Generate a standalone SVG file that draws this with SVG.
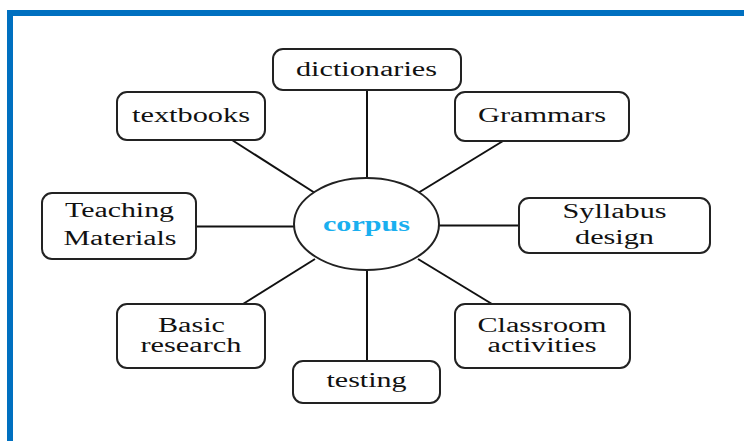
<svg xmlns="http://www.w3.org/2000/svg" width="744" height="441" viewBox="0 0 744 441">
<style>
.box{fill:#fff;stroke:#222;stroke-width:2}
.t{font-family:"Liberation Serif","Times New Roman",serif;font-size:20px;fill:#111;text-anchor:middle}
.c{font-family:"Liberation Serif","Times New Roman",serif;font-size:21px;font-weight:bold;fill:#1AAFEF;text-anchor:middle}
.ln{stroke:#111;stroke-width:2;fill:none}
</style>
<rect width="744" height="441" fill="#fff"/>
<path d="M10 445 V13 H750" fill="none" stroke="#0070C0" stroke-width="6"/>
<g id="connectors">
<line class="ln" x1="367" y1="90" x2="367" y2="178"/>
<line class="ln" x1="232" y1="140" x2="315" y2="193"/>
<line class="ln" x1="503" y1="141" x2="418" y2="193"/>
<line class="ln" x1="196" y1="226.5" x2="294" y2="226.5"/>
<line class="ln" x1="439" y1="225.5" x2="519" y2="225.5"/>
<line class="ln" x1="243" y1="304" x2="315" y2="259"/>
<line class="ln" x1="367" y1="270" x2="367" y2="361"/>
<line class="ln" x1="492" y1="304" x2="418" y2="259"/>
</g>
<g id="corpus">
<ellipse cx="366.5" cy="224" rx="72.5" ry="46" class="box"/>
<text class="c" x="366.5" y="231" textLength="87" lengthAdjust="spacingAndGlyphs">corpus</text>
</g>
<g id="dictionaries">
<rect class="box" x="273" y="49" width="188" height="41" rx="10"/>
<text class="t" x="366.5" y="76" textLength="141" lengthAdjust="spacingAndGlyphs">dictionaries</text>
</g>
<g id="textbooks">
<rect class="box" x="117" y="92" width="148" height="48" rx="10"/>
<text class="t" x="191" y="122" textLength="118" lengthAdjust="spacingAndGlyphs">textbooks</text>
</g>
<g id="grammars">
<rect class="box" x="455" y="92" width="174" height="49" rx="10"/>
<text class="t" x="542" y="122" textLength="128" lengthAdjust="spacingAndGlyphs">Grammars</text>
</g>
<g id="teaching-materials">
<rect class="box" x="42" y="193" width="154" height="66" rx="10"/>
<text class="t" x="119.5" y="217" textLength="109" lengthAdjust="spacingAndGlyphs">Teaching</text>
<text class="t" x="120" y="245" textLength="113" lengthAdjust="spacingAndGlyphs">Materials</text>
</g>
<g id="syllabus-design">
<rect class="box" x="519" y="198" width="191" height="55" rx="10"/>
<text class="t" x="614.5" y="218" textLength="104" lengthAdjust="spacingAndGlyphs">Syllabus</text>
<text class="t" x="614.5" y="244" textLength="79" lengthAdjust="spacingAndGlyphs">design</text>
</g>
<g id="basic-research">
<rect class="box" x="117" y="304" width="148" height="64" rx="10"/>
<text class="t" x="191.5" y="332" textLength="67" lengthAdjust="spacingAndGlyphs">Basic</text>
<text class="t" x="191" y="352" textLength="101" lengthAdjust="spacingAndGlyphs">research</text>
</g>
<g id="testing">
<rect class="box" x="293" y="361" width="147" height="42" rx="10"/>
<text class="t" x="366.5" y="387" textLength="80" lengthAdjust="spacingAndGlyphs">testing</text>
</g>
<g id="classroom-activities">
<rect class="box" x="455" y="304" width="175" height="64" rx="10"/>
<text class="t" x="542" y="332" textLength="129" lengthAdjust="spacingAndGlyphs">Classroom</text>
<text class="t" x="542" y="352" textLength="109" lengthAdjust="spacingAndGlyphs">activities</text>
</g>
</svg>
